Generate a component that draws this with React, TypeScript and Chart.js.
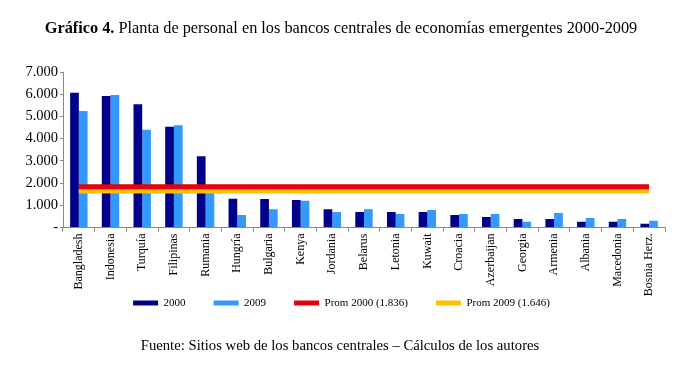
import React, { useEffect, useRef } from "react";
import { Chart, registerables } from "chart.js";

Chart.register(...registerables);

const categories = [
  "Bangladesh", "Indonesia", "Turquía", "Filipinas", "Rumania", "Hungría", "Bulgaria",
  "Kenya", "Jordania", "Belarus", "Letonia", "Kuwait", "Croacia", "Azerbaijan",
  "Georgia", "Armenia", "Albania", "Macedonia", "Bosnia Herz.",
];
const values2000 = [6070, 5920, 5550, 4530, 3210, 1290, 1280, 1240, 820, 700, 700, 700, 560, 470, 380, 380, 260, 260, 170];
const values2009 = [5250, 5970, 4400, 4600, 1800, 560, 820, 1200, 700, 820, 610, 790, 610, 610, 260, 650, 430, 380, 300];
const prom2000 = 1836;
const prom2009 = 1646;
const seriesLabels = ["2000", "2009", "Prom 2000 (1.836)", "Prom 2009 (1.646)"];
const yTicks = [0, 1000, 2000, 3000, 4000, 5000, 6000, 7000];

const C_DARK = "#000088";
const C_LIGHT = "#3399FF";
const C_RED = "#E3000F";
const C_YELLOW = "#FFC000";
const SERIF = "'Liberation Serif', 'Times New Roman', serif";

const fmt = (v: number) => (v === 0 ? "-" : String(v).replace(/\B(?=(\d{3})+(?!\d))/g, "."));

const legendShift = {
  id: "legendShift",
  afterLayout(chart: any) {
    const l = chart.legend;
    if (!l) return;
    l.top -= 33;
    l.bottom -= 33;
    l.left += 9;
    l.right += 9;
  },
};

export default function App() {
  const ref = useRef<HTMLCanvasElement | null>(null);

  useEffect(() => {
    document.body.style.margin = "0";
    const canvas = ref.current;
    if (!canvas) return;
    const chart = new Chart(canvas, {
      type: "bar",
      data: {
        labels: categories,
        datasets: [
          { label: seriesLabels[0], data: values2000, backgroundColor: C_DARK, borderWidth: 0, order: 1, barPercentage: 1, categoryPercentage: 0.55 },
          { label: seriesLabels[1], data: values2009, backgroundColor: C_LIGHT, borderWidth: 0, order: 1, barPercentage: 1, categoryPercentage: 0.55 },
          { type: "line", label: seriesLabels[2], data: categories.map(() => prom2000), borderColor: C_RED, backgroundColor: C_RED, borderWidth: 5, pointRadius: 0, order: -1 } as any,
          { type: "line", label: seriesLabels[3], data: categories.map(() => prom2009), borderColor: C_YELLOW, backgroundColor: C_YELLOW, borderWidth: 5, pointRadius: 0, order: -1 } as any,
        ],
      },
      plugins: [legendShift],
      options: {
        responsive: false,
        animation: false,
        layout: { padding: { top: 72, left: 0, right: 17, bottom: 18.5 } },
        plugins: {
          title: { display: false },
          tooltip: { enabled: false },
          legend: {
            position: "bottom",
            labels: {
              boxWidth: 25,
              boxHeight: 5,
              padding: 28,
              color: "#000",
              font: { family: SERIF, size: 11 },
              sort: (a: any, b: any) => a.datasetIndex - b.datasetIndex,
              generateLabels: (ch: any) => {
                const items = Chart.defaults.plugins.legend.labels.generateLabels(ch);
                return items.map((it: any) => {
                  const ds = ch.data.datasets[it.datasetIndex];
                  const col = ds.type === "line" ? ds.borderColor : ds.backgroundColor;
                  return { ...it, fillStyle: col, strokeStyle: col, lineWidth: 0 };
                });
              },
            },
          },
        },
        scales: {
          x: {
            afterFit: (s: any) => { s.height = 75; },
            grid: { drawOnChartArea: false, drawTicks: true, tickLength: 4, color: "#888", offset: true },
            border: { display: true, color: "#888" },
            ticks: {
              autoSkip: false,
              maxRotation: 90,
              minRotation: 90,
              padding: 2,
              color: "#000",
              font: { family: SERIF, size: 12 },
            },
          },
          y: {
            min: 0,
            max: 7000,
            afterFit: (s: any) => { s.width = 63; },
            afterBuildTicks: (s: any) => { s.ticks = yTicks.map((v) => ({ value: v })); },
            grid: { drawOnChartArea: false, drawTicks: true, tickLength: 3, color: "#888" },
            border: { display: true, color: "#888" },
            ticks: {
              padding: 2,
              color: "#000",
              font: { family: SERIF, size: 14.5 },
              callback: (v: any) => fmt(Number(v)),
            },
          },
        },
      },
    });
    return () => chart.destroy();
  }, []);

  return (
    <div style={{ position: "relative", width: 682, height: 370, background: "#fff", fontFamily: SERIF, color: "#000" }}>
      <canvas ref={ref} width={682} height={370} style={{ position: "absolute", left: 0, top: 0 }} />
      <div style={{ position: "absolute", left: 0, top: 18, width: 682, textAlign: "center", fontSize: "16.3px", lineHeight: "19px", whiteSpace: "nowrap" }}>
        <b>Gráfico 4.</b> Planta de personal en los bancos centrales de economías emergentes 2000-2009
      </div>
      <div style={{ position: "absolute", left: 0, top: 336, width: 680, textAlign: "center", fontSize: "14.7px", lineHeight: "18px", whiteSpace: "nowrap" }}>
        Fuente: Sitios web de los bancos centrales – Cálculos de los autores
      </div>
    </div>
  );
}
